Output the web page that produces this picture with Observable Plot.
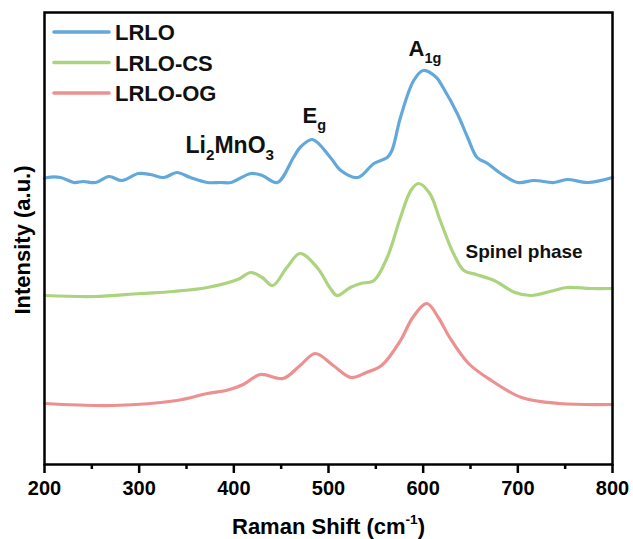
<!DOCTYPE html>
<html>
<head>
<meta charset="utf-8">
<script src="https://cdn.jsdelivr.net/npm/d3@7"></script>
<script src="https://cdn.jsdelivr.net/npm/@observablehq/plot@0.6"></script>
<style>
  html, body { margin: 0; padding: 0; background: #fff; }
  #chart { position: relative; width: 633px; height: 539px; }
  svg { font-family: "Liberation Sans", Arial, sans-serif; }
</style>
</head>
<body>
<div id="chart"></div>
<script>
// ---- data (Raman shift in cm-1, intensity in arbitrary units, offset stacked) ----
const seriesNames = ["LRLO", "LRLO-CS", "LRLO-OG"];
const seriesColors = ["#62a8da", "#acd47e", "#ec9090"];

const lrloShift = [200,203,217,231,241,254,268,282,299,312,326,340,354,372,386,397,418,430,446,463,470,483,502,513,531,548,562,567,576,590,600,614,621,636,647,657,668,682,700,717,738,752,774,800];
const lrloInt   = [286,287,287,282,283,282,288,284,291,290,287,292,287,282,282,282,291,289,282,307,317,325,307,294,287,301,307,314,347,384,394,387,377,351,327,307,301,291,282,284,282,285,282,287];

const csShift = [200,253,301,336,372,404,418,430,441,456,470,488,502,509,523,534,548,562,576,587,595,607,618,632,643,656,675,697,714,738,752,777,800];
const csInt   = [169,168,171,173,177,185,192,187,179,197,211,197,176,169,177,181,184,207,247,274,281,271,244,211,194,190,184,172,169,174,177,176,176];

const ogShift = [200,273,340,372,392,410,428,452,470,486,505,524,540,556,576,589,604,616,628,648,672,704,744,800];
const ogInt   = [61,59,64,71,74,80,90,86,99,111,99,87,92,99,124,147,161,147,127,101,84,67,61,60];

const xTicks = [200, 300, 400, 500, 600, 700, 800];
const xMinorTicks = [250, 350, 450, 550, 650, 750];

const annoText = ["Li_{2}MnO_{3}", "E_{g}", "A_{1g}", "Spinel phase"];
const annoShift = [349, 472.5, 584.5, 644.7];
const annoInt = [312, 342, 409, 207];

const xTitle = "Raman Shift (cm^{-1})";
const yTitle = "Intensity (a.u.)";

// ---- build table ----
const shifts = [lrloShift, csShift, ogShift];
const ints = [lrloInt, csInt, ogInt];
const table = seriesNames.flatMap((name, i) =>
  shifts[i].map((x, j) => ({series: name, shift: x, intensity: ints[i][j]})));
const annos = annoText.map((t, i) => ({text: t, shift: annoShift[i], intensity: annoInt[i]}));
const annoSizes = [23, 22, 22, 19];

const W = 633, H = 539;
const font = "\"Liberation Sans\", Arial, sans-serif";

const chart = Plot.plot({
  width: W,
  height: H,
  marginLeft: 44,
  marginRight: 21,
  marginTop: 12,
  marginBottom: 75,
  style: {fontFamily: font, background: "white"},
  x: {domain: [200, 800]},
  y: {domain: [0, 452]},
  color: {domain: seriesNames, range: seriesColors},
  marks: [
    Plot.axisX({ticks: xMinorTicks, tickSize: 5, strokeWidth: 2.5, tickFormat: () => "", label: null}),
    Plot.axisX({ticks: xTicks, tickSize: 9, strokeWidth: 2.5, tickPadding: 7, tickFormat: d3.format("d"),
      fontSize: 20, fontWeight: "bold", fill: "black",
      label: xTitle, labelAnchor: "center", labelOffset: 69, labelArrow: "none"}),
    Plot.axisY({ticks: [], label: null}),
    Plot.line(table, {x: "shift", y: "intensity", z: "series", stroke: "series",
      strokeWidth: 3.2, curve: "catmull-rom"}),
    ...annos.map((a, i) => Plot.text([a], {x: "shift", y: "intensity", text: "text",
      textAnchor: "start", lineAnchor: "bottom", fontSize: annoSizes[i], fontWeight: "bold", fill: "#111"})),
    Plot.frame({stroke: "black", strokeWidth: 2.5})
  ]
});

document.getElementById("chart").appendChild(chart);
const svg = d3.select(chart);

// rich text (sub/superscripts)
function richify(el, size) {
  const s = el.textContent;
  if (!/[_^]\{/.test(s)) return;
  while (el.firstChild) el.removeChild(el.firstChild);
  const re = /([_^])\{([^}]*)\}|([^_^]+)/g;
  let m, prevShift = 0;
  const ns = "http://www.w3.org/2000/svg";
  while ((m = re.exec(s)) !== null) {
    const t = document.createElementNS(ns, "tspan");
    if (m[1]) {
      const sh = m[1] === "_" ? 0.32 * size : -0.42 * size;
      t.setAttribute("font-size", (0.66 * size).toFixed(1));
      t.setAttribute("dy", (sh - prevShift).toFixed(1));
      t.textContent = m[2];
      prevShift = sh;
    } else {
      if (prevShift) t.setAttribute("dy", (-prevShift).toFixed(1));
      t.textContent = m[3];
      prevShift = 0;
    }
    el.appendChild(t);
  }
}
svg.selectAll("text").each(function() {
  const fsAttr = this.closest("[font-size]");
  const size = fsAttr ? parseFloat(fsAttr.getAttribute("font-size")) : 20;
  richify(this, size);
});
// style x-axis title
svg.selectAll("text").filter(function() { return this.textContent.startsWith("Raman"); })
  .attr("font-size", 22).attr("font-weight", "bold").attr("fill", "black").each(function() {
    d3.select(this).selectAll("tspan").filter(function() { return this.getAttribute("font-size"); })
      .attr("font-size", 13.6);
    d3.select(this).selectAll("tspan").each(function() {
      const dy = this.getAttribute("dy"); if (dy) this.setAttribute("dy", (parseFloat(dy) * 1.1).toFixed(1));
    });
  });

// y title
svg.append("text")
  .attr("transform", `translate(22,${240}) rotate(-90)`)
  .attr("text-anchor", "middle")
  .attr("dy", "0.35em")
  .attr("font-size", 22)
  .attr("font-weight", "bold")
  .attr("fill", "black")
  .text(yTitle);

// legend
const leg = svg.append("g").attr("text-anchor", "start");
seriesNames.forEach((name, i) => {
  const y = 32 + i * 30.5;
  leg.append("line").attr("x1", 54).attr("x2", 109).attr("y1", y).attr("y2", y)
    .attr("stroke", seriesColors[i]).attr("stroke-width", 3.6).attr("stroke-linecap", "round");
  leg.append("text").attr("x", 115).attr("y", y + 8).attr("font-size", 22)
    .attr("text-anchor", "start")
    .attr("font-weight", "bold").attr("fill", "#111").text(name);
});
</script>
</body>
</html>
